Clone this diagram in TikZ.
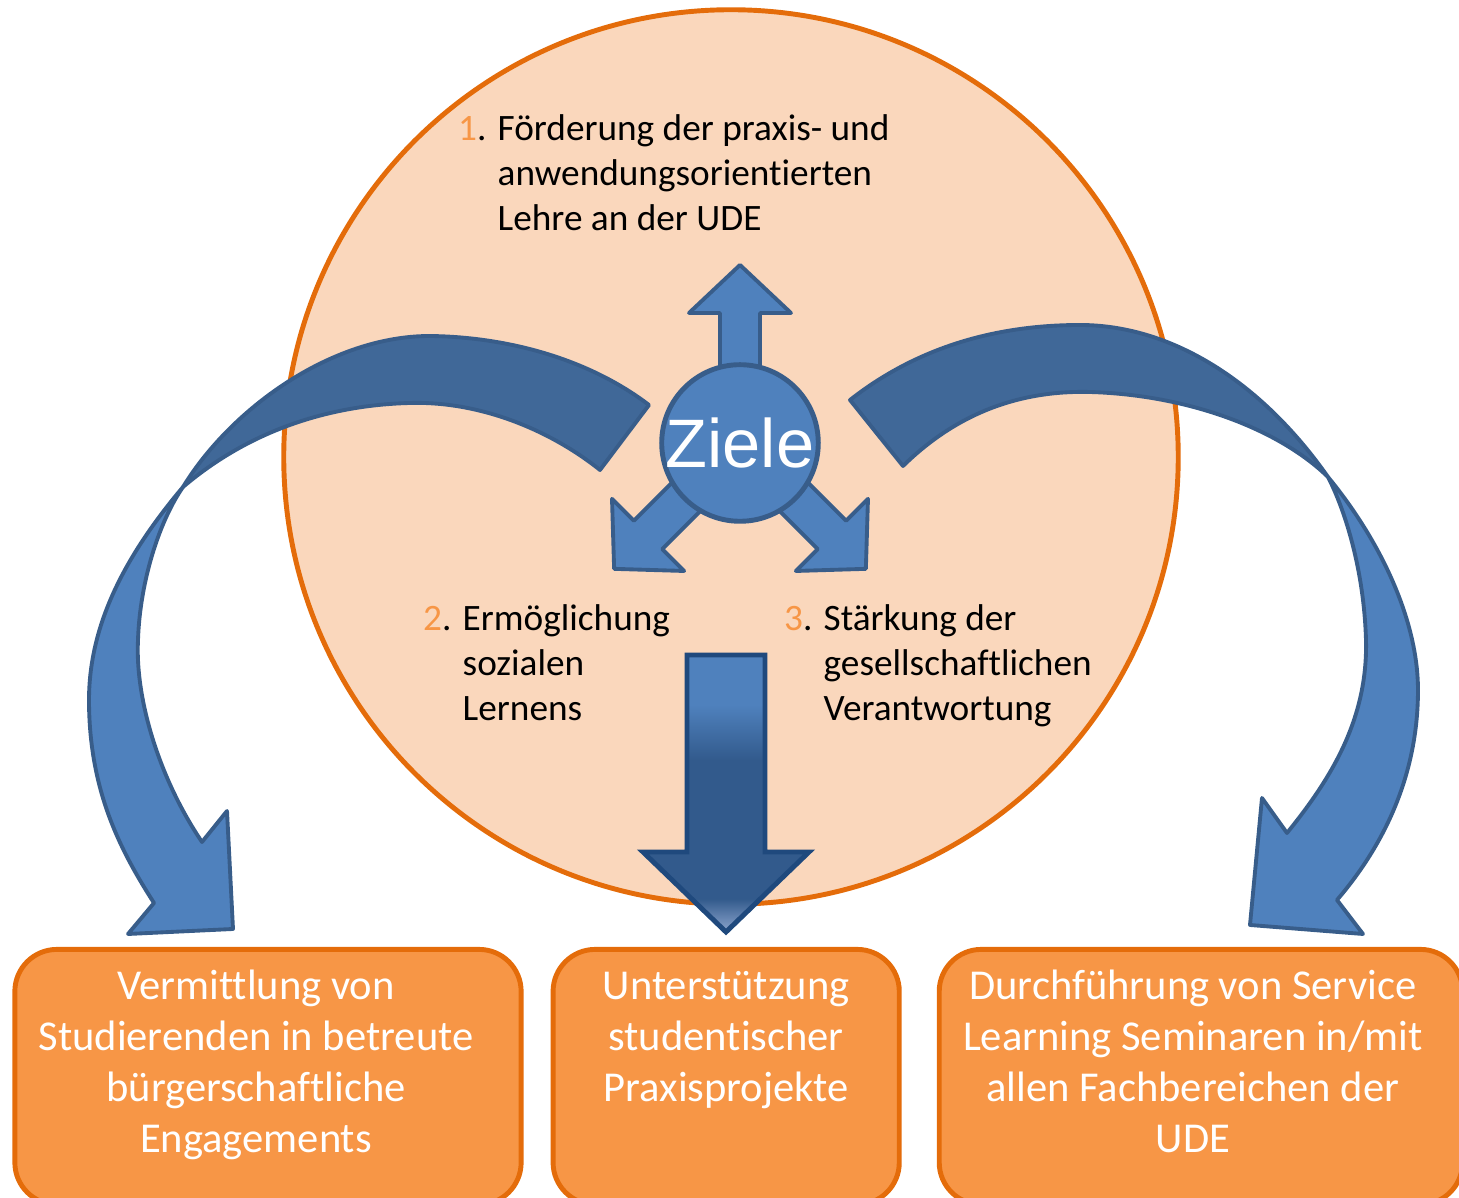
\documentclass[tikz,border=0pt]{standalone}
\usepackage{fontspec}
\setmainfont{Carlito}[Ligatures={NoCommon}]
\newfontfamily\zieleschrift{Liberation Sans}
\usetikzlibrary{positioning}

\definecolor{kreisfill}{RGB}{250,215,188}
\definecolor{kreisrand}{RGB}{228,108,10}
\definecolor{boxfill}{RGB}{247,150,70}
\definecolor{zielblau}{RGB}{79,129,189}
\definecolor{zielrand}{RGB}{56,93,138}
\definecolor{bandblau}{RGB}{64,104,152}
\definecolor{pfeilrand}{RGB}{31,73,125}
\definecolor{pfeiltief}{RGB}{50,90,140}
\definecolor{pfeilspitze}{RGB}{140,165,205}

\pgfdeclareverticalshading{pfeilshade}{100bp}{color(0bp)=(pfeilspitze); color(25bp)=(pfeilspitze); color(31bp)=(pfeiltief); color(56bp)=(pfeiltief); color(66bp)=(zielblau); color(100bp)=(zielblau)}

\newcommand{\goalfont}{\fontsize{10.6pt}{12.8pt}\selectfont}
\newcommand{\kastenfont}{\fontsize{12.1pt}{14.5pt}\selectfont}
\newcommand{\nr}[1]{\llap{\textcolor{boxfill}{#1}. }}

\tikzset{
  kasten/.style={draw=kreisrand, fill=boxfill, line width=1.4pt, rounded corners=0.42cm, minimum height=2.55cm},
  kastentext/.style={text=white, font=\kastenfont, align=center, inner sep=0pt},
  ziel/.style={font=\goalfont, align=left, inner sep=0pt, anchor=north west},
  zweig/.style={fill=zielblau, draw=zielrand, line width=1.1pt, line join=round},
  band/.style={fill=bandblau, draw=zielrand, line width=1.1pt, line join=round}
}

\begin{document}
\begin{tikzpicture}[x=0.01cm, y=-0.01cm]
\useasboundingbox (0,0) rectangle (1459,1198);
\clip (0,0) rectangle (1459,1198);
\node[circle, draw=kreisrand, fill=kreisfill, line width=1.4pt, minimum size=8.94cm, inner sep=0pt] (kreis) at (731,457) {};
% linker Bogen
\filldraw[band] (649,405) .. controls (590,360) and (510,337) .. (430,336)
  .. controls (330,336) and (230,410) .. (183,487)
  .. controls (250,430) and (330,405) .. (410,403)
  .. controls (480,401) and (550,430) .. (600,470) -- cycle;
% rechter Bogen
\filldraw[band] (850,400) .. controls (920,345) and (1000,325) .. (1080,325)
  .. controls (1170,325) and (1260,380) .. (1328,477)
  .. controls (1280,430) and (1190,395) .. (1090,392)
  .. controls (1010,390) and (950,420) .. (903,466) -- cycle;
\coordinate (mitte) at (740,443);
\foreach \w in {90,225,315}
  \filldraw[zweig, shift={(mitte)}, rotate=\w] (0,-20) -- (130,-20) -- (130,-51) -- (178,0) -- (130,51) -- (130,20) -- (0,20) -- cycle;
\node[circle, fill=zielblau, draw=zielrand, line width=1.4pt, minimum size=1.55cm, inner sep=0pt, text=white, font=\zieleschrift\fontsize{19.5pt}{20pt}\selectfont] (ziele) at (mitte) {Ziele};
\node[ziel] (z1) at (497,108) {\strut\nr{1}Förderung der praxis- und\\anwendungsorientierten\\Lehre an der UDE};
\node[ziel] (z2) at (462,598) {\strut\nr{2}Ermöglichung\\sozialen\\Lernens};
\node[ziel] (z3) at (823,598) {\strut\nr{3}Stärkung der\\gesellschaftlichen\\Verantwortung};
\shadedraw[draw=pfeilrand, line width=1.4pt, shading=pfeilshade] (687,655) -- (765,655) -- (765,852) -- (809,852) -- (726,932) -- (643,852) -- (687,852) -- cycle;
\filldraw[zweig] (183,487) .. controls (130,550) and (89,620) .. (89,700)
  .. controls (89,790) and (120,850) .. (154,903) -- (128,934) -- (233,929) -- (227,811) -- (202,842)
  .. controls (160,780) and (135,700) .. (138,640)
  .. controls (140,580) and (160,520) .. (183,487) -- cycle;
\filldraw[zweig] (1328,477) .. controls (1380,540) and (1418,620) .. (1418,690)
  .. controls (1418,780) and (1380,850) .. (1337,900) -- (1363,934) -- (1250,925) -- (1262,798) -- (1287,833)
  .. controls (1330,780) and (1368,720) .. (1366,640)
  .. controls (1364,570) and (1345,510) .. (1328,477) -- cycle;
\node[kasten, minimum width=5.06cm] (verm) at (268,1077) {};
\node[kasten, minimum width=3.46cm, right=0.27cm of verm] (unter) {};
\node[kasten, minimum width=5.23cm, right=0.35cm of unter] (durch) {};
\node[kastentext, below=0.16cm of verm.north, xshift=-0.12cm] (vermtext) {\strut Vermittlung von\\Studierenden in betreute\\bürgerschaftliche\\Engagements};
\node[kastentext, below=0.16cm of unter.north] (untertext) {\strut Unterstützung\\studentischer\\Praxisprojekte};
\node[kastentext, below=0.16cm of durch.north, xshift=-0.08cm] (durchtext) {\strut Durchführung von Service\\Learning Seminaren in/mit\\allen Fachbereichen der\\UDE};
\end{tikzpicture}
\end{document}
